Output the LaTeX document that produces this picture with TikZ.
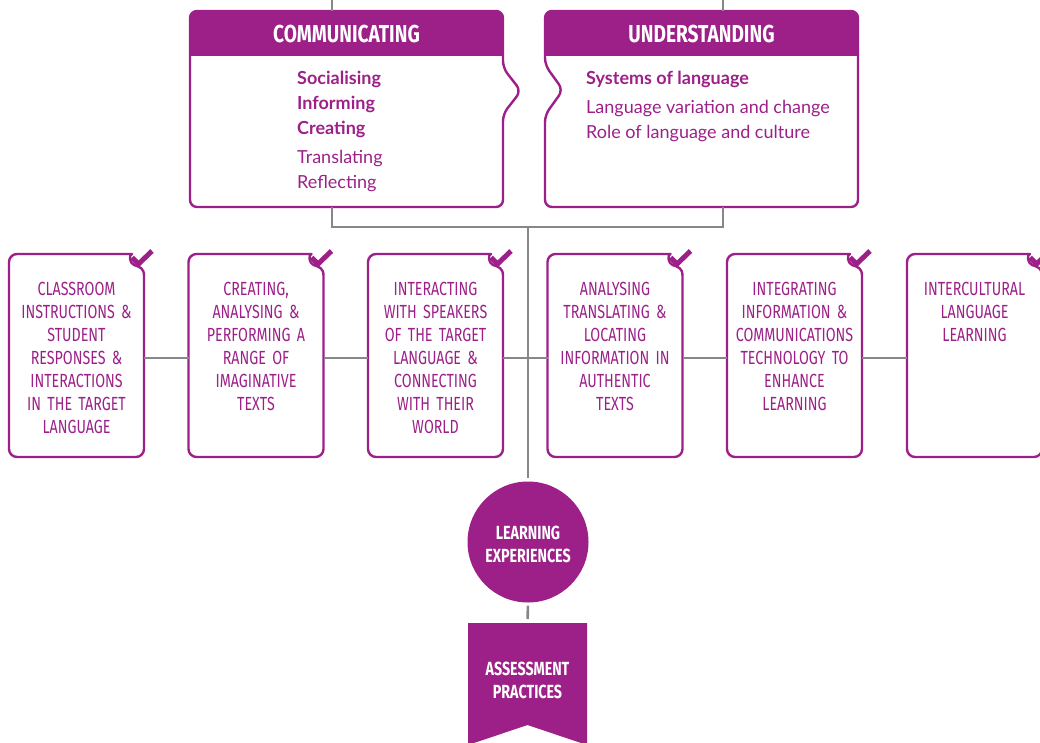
\documentclass[tikz,border=0pt]{standalone}
\usepackage{fontspec}
\setmainfont{Lato}
\newfontfamily\cond[FakeStretch=0.75]{Fira Sans}
\newfontfamily\condh[FakeStretch=0.78]{Fira Sans}
\newfontfamily\lato{Lato}
\newcommand\condtxt{\cond\fontsize{19}{23}\selectfont\fontdimen2\font=3.8pt\relax\fontdimen3\font=0pt\relax\fontdimen4\font=0pt\relax}
\definecolor{pp}{RGB}{156,32,136}
\definecolor{ln}{RGB}{135,135,135}
\begin{document}
\begin{tikzpicture}[x=1pt,y=-1pt,
  conn/.style={draw=ln,line width=2.6pt},
  boxline/.style={draw=pp,line width=2.4pt,line join=round},
  chk/.style={draw=pp,line width=5pt,line join=miter},
  ghost/.style={inner sep=0,outer sep=0,draw=none,minimum width=135,minimum height=203},
  boxtxt/.style={text=pp,font=\condtxt,align=center,text width=134,inner sep=0,anchor=base},
  headtxt/.style={text=white,font=\condh\bfseries\fontsize{24.5}{26}\selectfont,inner sep=0,anchor=base},
  bodyb/.style={text=pp,font=\lato\bfseries\fontsize{18}{20}\selectfont,anchor=base west,inner sep=0},
  bodyr/.style={text=pp,font=\lato\fontsize{18}{20}\selectfont,anchor=base west,inner sep=0},
  whitetxt/.style={text=white,font=\cond\bfseries\fontsize{19}{23}\selectfont,align=center,inner sep=0},
]
\useasboundingbox (0,0) rectangle (1040,743);

% ---------- top boxes ----------
\node[inner sep=0,outer sep=0,minimum width=313,minimum height=196] (comm) at (346.5,109) {};
\node[inner sep=0,outer sep=0,minimum width=313,minimum height=196] (und) at (701.5,109) {};

\begin{scope}
  \clip (180,0) rectangle (540,56);
  \fill[pp,rounded corners=7] (340,11) -- (503,11) -- (503,207) -- (190,207) -- (190,11) -- cycle;
\end{scope}
\begin{scope}
  \clip (530,0) rectangle (870,56);
  \fill[pp,rounded corners=7] (700,11) -- (858,11) -- (858,207) -- (545,207) -- (545,11) -- cycle;
\end{scope}
\draw[boxline,rounded corners=7] (340,11) -- (503,11) -- (503,68) -- (521,91) -- (503,114) -- (503,207) -- (190,207) -- (190,11) -- cycle;
\draw[boxline,rounded corners=7] (700,11) -- (858,11) -- (858,207) -- (545,207) -- (545,115) -- (563,90) -- (545,65) -- (545,11) -- cycle;

\node[headtxt] (commh) at (346.5,43) {COMMUNICATING};
\node[headtxt] (undh) at (701.5,43) {UNDERSTANDING};

\node[bodyb] (c1) at (297,84.5) {Socialising};
\node[bodyb] (c2) at (297,109.5) {Informing};
\node[bodyb] (c3) at (297,134.5) {Creating};
\node[bodyr] (c4) at (297,163.5) {Translating};
\node[bodyr] (c5) at (297,188.5) {Reflecting};

\node[bodyb] (u1) at (586,84.5) {Systems of language};
\node[bodyr] (u2) at (586,113.5) {Language variation and change};
\node[bodyr] (u3) at (586,138.5) {Role of language and culture};

% ---------- lower boxes ----------
\node[ghost] (b1) at (76.5,355.5) {};
\node[ghost] (b2) at (256,355.5) {};
\node[ghost] (b3) at (435.5,355.5) {};
\node[ghost] (b4) at (615,355.5) {};
\node[ghost] (b5) at (794.5,355.5) {};
\node[ghost] (b6) at (974.5,355.5) {};

\foreach \b in {b1,b2,b3,b4,b5,b6}{
  \draw[boxline] ([shift={(-20,0)}]\b.north east)
     .. controls ([shift={(-15,0)}]\b.north east) and ([shift={(-15,9)}]\b.north east) .. ([shift={(-10,11)}]\b.north east)
     .. controls ([shift={(-4,13)}]\b.north east) and ([shift={(0,14)}]\b.north east) .. ([shift={(0,22)}]\b.north east)
     [rounded corners=8] -- (\b.south east) -- (\b.south west) -- (\b.north west) -- cycle;
  \draw[chk] ([shift={(-12,3.5)}]\b.north east) -- ([shift={(-5.5,10)}]\b.north east) -- ([shift={(8,-3)}]\b.north east);
}

\node[boxtxt] (t1) at (76.5,295) {CLASSROOM\\INSTRUCTIONS \&\\STUDENT\\RESPONSES \&\\INTERACTIONS\\IN THE TARGET\\LANGUAGE};
\node[boxtxt] (t2) at (256,295) {CREATING,\\ANALYSING \&\\PERFORMING A\\RANGE OF\\IMAGINATIVE\\TEXTS};
\node[boxtxt] (t3) at (435.5,295) {INTERACTING\\WITH SPEAKERS\\OF THE TARGET\\LANGUAGE \&\\CONNECTING\\WITH THEIR\\WORLD};
\node[boxtxt] (t4) at (615,295) {ANALYSING\\TRANSLATING \&\\LOCATING\\INFORMATION IN\\AUTHENTIC\\TEXTS};
\node[boxtxt] (t5) at (794.5,295) {INTEGRATING\\INFORMATION \&\\COMMUNICATIONS\\TECHNOLOGY TO\\ENHANCE\\LEARNING};
\node[boxtxt] (t6) at (974.5,295) {INTERCULTURAL\\LANGUAGE\\LEARNING};

% ---------- circle and ribbon ----------
\node[circle,fill=pp,minimum size=121,whitetxt] (le) at (528,542) {};
\node[whitetxt] (let) at (528,544) {LEARNING\\EXPERIENCES};

\node[inner sep=0,outer sep=0,minimum width=119,minimum height=122] (ap) at (527.5,684) {};
\fill[pp] (ap.north west) -- (ap.north east) -- (ap.south east) -- (ap.south |- 0,725) -- (ap.south west) -- cycle;
\node[whitetxt] (apt) at (527.5,680) {ASSESSMENT\\PRACTICES};

% ---------- connectors ----------
\coordinate (ctop) at (332,0);
\coordinate (utop) at (723,0);
\coordinate (jl) at (332,227);
\coordinate (jr) at (723,227);
\coordinate (jc) at (528,227);
\coordinate (hl) at (0,358);
\draw[conn] (ctop) -- (ctop |- comm.north);
\draw[conn] (utop) -- (utop |- und.north);
\draw[conn] (jl |- comm.south) -- (jl) -- (jr) -- (jr |- und.south);
\draw[conn,shorten >=3pt] (jc) -- (le.north);
\draw[conn,shorten <=3pt,shorten >=4pt] (le.south) -- (ap.north);
\draw[conn] (b1.east |- hl) -- (b2.west |- hl);
\draw[conn] (b2.east |- hl) -- (b3.west |- hl);
\draw[conn] (b3.east |- hl) -- (b4.west |- hl);
\draw[conn] (b4.east |- hl) -- (b5.west |- hl);
\draw[conn] (b5.east |- hl) -- (b6.west |- hl);
\end{tikzpicture}
\end{document}
